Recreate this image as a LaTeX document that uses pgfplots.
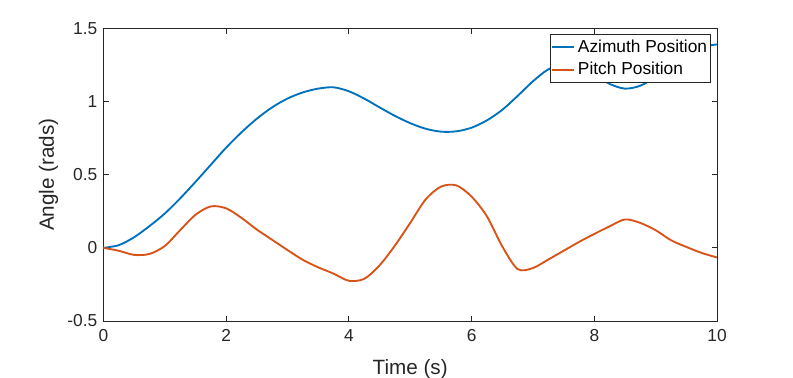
\documentclass[border=0pt]{standalone}
\usepackage{fontspec}
\setmainfont{Liberation Sans}
\usepackage{pgfplots}
\pgfplotsset{compat=1.18}
\definecolor{mlblue}{HTML}{0072BD}
\definecolor{mlorange}{HTML}{D95319}
\definecolor{mlgray}{HTML}{262626}

\begin{document}
\begin{tikzpicture}
\path[use as bounding box] (0,0) rectangle (594.75pt,283.5pt);
\begin{axis}[
    at={(77.5pt,42.75pt)}, anchor=south west,
    width=460.3pt, height=219.5pt, scale only axis,
    xmin=0, xmax=10, ymin=-0.5, ymax=1.5,
    xtick={0,2,...,10}, ytick={-0.5,0,0.5,1,1.5},
    tick align=inside, major tick length=4pt,
    axis line style={mlgray, line width=0.6pt},
    every tick/.style={mlgray, line width=0.6pt},
    tick label style={font=\fontsize{13}{15}\selectfont, text=mlgray},
    /pgf/number format/assume math mode=true,
    /pgf/number format/fixed,
    xticklabel style={yshift=-3pt},
    yticklabel style={xshift=-1pt},
    xlabel={Time (s)}, ylabel={Angle (rads)},
    label style={font=\fontsize{15.5}{17}\selectfont, text=mlgray},
    xlabel style={yshift=-6pt},
    legend style={
        at={(1,1)}, anchor=north east, xshift=-4.7pt, yshift=-4.3pt,
        draw=mlgray, fill=white, line width=0.6pt,
        font=\fontsize{13}{15}\selectfont,
        inner xsep=0.5pt, inner ysep=2pt, row sep=2pt,
        cells={anchor=west},
    },
    legend cell align=left,
]

% azimuth
\addplot[mlblue, line width=1.4pt, smooth] coordinates {
    (0,0) (0.25,0.018) (0.5,0.072) (0.75,0.148) (1.0,0.234) (1.25,0.337)
    (1.5,0.45) (1.75,0.567) (2.0,0.684) (2.25,0.789) (2.5,0.882)
    (2.75,0.96) (3.0,1.02) (3.25,1.062) (3.5,1.088) (3.75,1.097)
    (4.0,1.07) (4.25,1.02) (4.5,0.96) (4.75,0.902) (5.0,0.852)
    (5.25,0.814) (5.5,0.794) (5.75,0.796) (6.0,0.821) (6.25,0.871)
    (6.5,0.943) (6.75,1.038) (7.0,1.138) (7.25,1.22) (7.5,1.255)
    (7.75,1.24) (8.0,1.185) (8.25,1.12) (8.5,1.088) (8.75,1.108)
    (9.0,1.168) (9.25,1.243) (9.5,1.315) (9.75,1.372) (10,1.39)
};
\addlegendentry{Azimuth Position}

% pitch
\addplot[mlorange, line width=1.4pt, smooth] coordinates {
    (0,0) (0.25,-0.02) (0.5,-0.048) (0.75,-0.042) (1.0,0.012) (1.25,0.12)
    (1.5,0.225) (1.75,0.283) (2.0,0.27) (2.25,0.205) (2.5,0.125)
    (2.75,0.055) (3.0,-0.015) (3.25,-0.082) (3.5,-0.133) (3.75,-0.176)
    (4.0,-0.225) (4.25,-0.212) (4.5,-0.12) (4.75,0.015) (5.0,0.17)
    (5.25,0.33) (5.5,0.418) (5.75,0.427) (6.0,0.35) (6.25,0.215)
    (6.5,0.01) (6.75,-0.145) (7.0,-0.138) (7.25,-0.08) (7.5,-0.02)
    (7.75,0.04) (8.0,0.095) (8.25,0.147) (8.5,0.194) (8.75,0.17)
    (9.0,0.12) (9.25,0.052) (9.5,0.006) (9.75,-0.035) (10,-0.066)
};
\addlegendentry{Pitch Position}

\end{axis}
\end{tikzpicture}
\end{document}
